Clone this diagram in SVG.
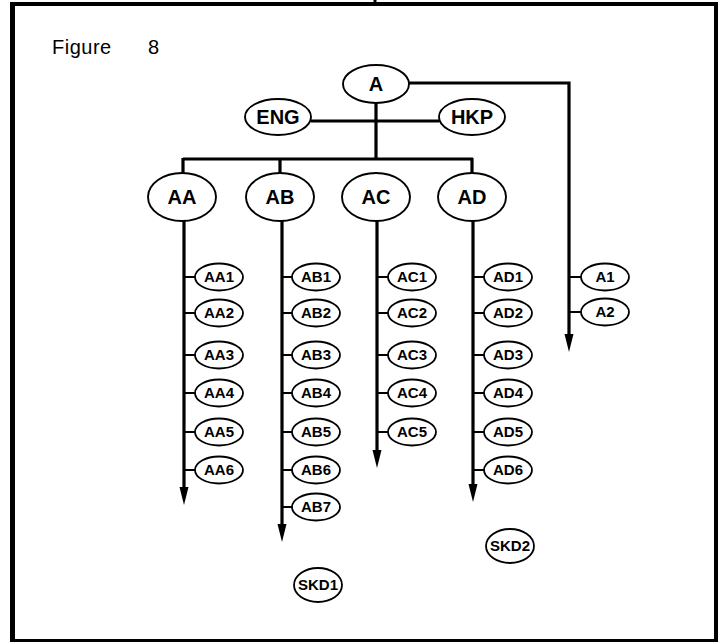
<svg xmlns="http://www.w3.org/2000/svg" width="726" height="642" viewBox="0 0 726 642">
<defs>
<style>
.frame{fill:none;stroke:#000}
.big ellipse{fill:#fff;stroke:#000;stroke-width:1.9}
.sm ellipse{fill:#fff;stroke:#000;stroke-width:1.8}
.big text{font-family:"Liberation Sans",Arial,sans-serif;font-weight:bold;font-size:20px;text-anchor:middle;fill:#000}
.sm text{font-family:"Liberation Sans",Arial,sans-serif;font-weight:bold;font-size:15px;text-anchor:middle;fill:#000}
.thick{fill:none;stroke:#000;stroke-width:3.2}
.stub{fill:none;stroke:#000;stroke-width:2.2}
.title{font-family:"Liberation Sans",Arial,sans-serif;font-size:20px;fill:#000}
</style>
<marker id="arr" markerUnits="userSpaceOnUse" markerWidth="22" markerHeight="12" viewBox="-10 -6 22 12" refX="0" refY="0" orient="auto">
<path d="M10,0 L-8,-4.5 L-8,4.5 Z" fill="#000"/>
</marker>
</defs>
<rect width="726" height="642" fill="#fff"/>
<g id="frame">
<line class="frame" x1="12.5" y1="2" x2="12.5" y2="640" stroke-width="5"/>
<line class="frame" x1="10" y1="4" x2="718" y2="4" stroke-width="4"/>
<line class="frame" x1="716" y1="2" x2="716" y2="640" stroke-width="4"/>
<line class="frame" x1="10" y1="640.5" x2="718" y2="640.5" stroke-width="3"/>
<line class="frame" x1="375" y1="0" x2="375" y2="6" stroke-width="3"/>
</g>
<text class="title" x="52" y="54" letter-spacing="0.5">Figure <tspan x="148">8</tspan></text>
<g id="connectors">
<path class="thick" d="M409,83 H569 V342" marker-end="url(#arr)"/>
<path class="thick" d="M376,103 V159"/>
<path class="thick" d="M311,121 H439"/>
<path class="thick" d="M183,159 H473 M183,158 V174 M280,158 V174 M472,158 V174"/>
<path class="thick" d="M184,221 V495" marker-end="url(#arr)"/>
<path class="thick" d="M282,221 V532" marker-end="url(#arr)"/>
<path class="thick" d="M377,221 V458" marker-end="url(#arr)"/>
<path class="thick" d="M473,221 V492" marker-end="url(#arr)"/>
<path class="stub" d="M184,277 H196 M184,313 H196 M184,355 H196 M184,393 H196 M184,432 H196 M184,470 H196"/>
<path class="stub" d="M282,277 H293 M282,313 H293 M282,355 H293 M282,393 H293 M282,432 H293 M282,470 H293 M282,507 H293"/>
<path class="stub" d="M377,277 H389 M377,313 H389 M377,355 H389 M377,393 H389 M377,432 H389"/>
<path class="stub" d="M473,277 H485 M473,313 H485 M473,355 H485 M473,393 H485 M473,432 H485 M473,470 H485"/>
<path class="stub" d="M569,277 H582 M569,312 H582"/>
</g>
<g id="A" class="big"><ellipse cx="376" cy="84" rx="33" ry="19"/><text x="376" y="91">A</text></g>
<g id="ENG" class="big"><ellipse cx="278" cy="117" rx="33" ry="18"/><text x="278" y="124">ENG</text></g>
<g id="HKP" class="big"><ellipse cx="472" cy="117" rx="33" ry="18"/><text x="472" y="124">HKP</text></g>
<g id="AA" class="big"><ellipse cx="182" cy="197" rx="34" ry="24"/><text x="182" y="204">AA</text></g>
<g id="AB" class="big"><ellipse cx="280" cy="197" rx="34" ry="24"/><text x="280" y="204">AB</text></g>
<g id="AC" class="big"><ellipse cx="376" cy="197" rx="34" ry="24"/><text x="376" y="204">AC</text></g>
<g id="AD" class="big"><ellipse cx="472" cy="197" rx="34" ry="24"/><text x="472" y="204">AD</text></g>
<g id="AA1" class="sm"><ellipse cx="219" cy="277" rx="24" ry="13.5"/><text x="219" y="282">AA1</text></g>
<g id="AA2" class="sm"><ellipse cx="219" cy="313" rx="24" ry="13.5"/><text x="219" y="318">AA2</text></g>
<g id="AA3" class="sm"><ellipse cx="219" cy="355" rx="24" ry="13.5"/><text x="219" y="360">AA3</text></g>
<g id="AA4" class="sm"><ellipse cx="219" cy="393" rx="24" ry="13.5"/><text x="219" y="398">AA4</text></g>
<g id="AA5" class="sm"><ellipse cx="219" cy="432" rx="24" ry="13.5"/><text x="219" y="437">AA5</text></g>
<g id="AA6" class="sm"><ellipse cx="219" cy="470" rx="24" ry="13.5"/><text x="219" y="475">AA6</text></g>
<g id="AB1" class="sm"><ellipse cx="316" cy="277" rx="24" ry="13.5"/><text x="316" y="282">AB1</text></g>
<g id="AB2" class="sm"><ellipse cx="316" cy="313" rx="24" ry="13.5"/><text x="316" y="318">AB2</text></g>
<g id="AB3" class="sm"><ellipse cx="316" cy="355" rx="24" ry="13.5"/><text x="316" y="360">AB3</text></g>
<g id="AB4" class="sm"><ellipse cx="316" cy="393" rx="24" ry="13.5"/><text x="316" y="398">AB4</text></g>
<g id="AB5" class="sm"><ellipse cx="316" cy="432" rx="24" ry="13.5"/><text x="316" y="437">AB5</text></g>
<g id="AB6" class="sm"><ellipse cx="316" cy="470" rx="24" ry="13.5"/><text x="316" y="475">AB6</text></g>
<g id="AB7" class="sm"><ellipse cx="316" cy="507" rx="24" ry="13.5"/><text x="316" y="512">AB7</text></g>
<g id="AC1" class="sm"><ellipse cx="412" cy="277" rx="24" ry="13.5"/><text x="412" y="282">AC1</text></g>
<g id="AC2" class="sm"><ellipse cx="412" cy="313" rx="24" ry="13.5"/><text x="412" y="318">AC2</text></g>
<g id="AC3" class="sm"><ellipse cx="412" cy="355" rx="24" ry="13.5"/><text x="412" y="360">AC3</text></g>
<g id="AC4" class="sm"><ellipse cx="412" cy="393" rx="24" ry="13.5"/><text x="412" y="398">AC4</text></g>
<g id="AC5" class="sm"><ellipse cx="412" cy="432" rx="24" ry="13.5"/><text x="412" y="437">AC5</text></g>
<g id="AD1" class="sm"><ellipse cx="508" cy="277" rx="24" ry="13.5"/><text x="508" y="282">AD1</text></g>
<g id="AD2" class="sm"><ellipse cx="508" cy="313" rx="24" ry="13.5"/><text x="508" y="318">AD2</text></g>
<g id="AD3" class="sm"><ellipse cx="508" cy="355" rx="24" ry="13.5"/><text x="508" y="360">AD3</text></g>
<g id="AD4" class="sm"><ellipse cx="508" cy="393" rx="24" ry="13.5"/><text x="508" y="398">AD4</text></g>
<g id="AD5" class="sm"><ellipse cx="508" cy="432" rx="24" ry="13.5"/><text x="508" y="437">AD5</text></g>
<g id="AD6" class="sm"><ellipse cx="508" cy="470" rx="24" ry="13.5"/><text x="508" y="475">AD6</text></g>
<g id="A1" class="sm"><ellipse cx="605" cy="277" rx="24" ry="13.5"/><text x="605" y="282">A1</text></g>
<g id="A2" class="sm"><ellipse cx="605" cy="312" rx="24" ry="13.5"/><text x="605" y="317">A2</text></g>
<g id="SKD1" class="sm"><ellipse cx="318" cy="585" rx="24" ry="17"/><text x="318" y="590">SKD1</text></g>
<g id="SKD2" class="sm"><ellipse cx="510" cy="546" rx="24" ry="17"/><text x="510" y="551">SKD2</text></g>
</svg>
